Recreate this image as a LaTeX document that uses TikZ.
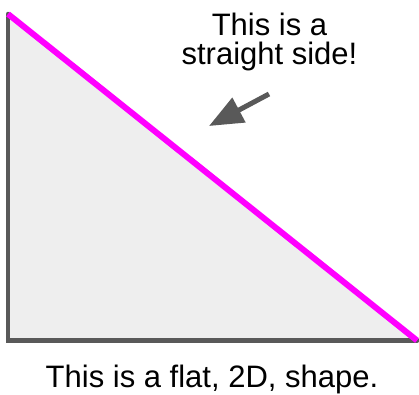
\documentclass[tikz,border=0pt]{standalone}
\usepackage{fontspec}
\setmainfont{Liberation Sans}
\usetikzlibrary{arrows.meta}
\definecolor{edgegray}{HTML}{595959}
\definecolor{facegray}{HTML}{EEEEEE}
\definecolor{hyp}{HTML}{FF00FF}
\tikzset{
  label text/.style={font=\fontsize{31}{29}\selectfont, inner sep=0pt, align=center, text=black},
  pointer/.style={draw=edgegray, line width=5pt, -{Triangle[length=34pt,width=27pt]}},
}
\begin{document}
\begin{tikzpicture}[x=1pt,y=-1pt]
\useasboundingbox (0,0) rectangle (419,394);
\coordinate (A) at (8,14);
\coordinate (B) at (8,340.5);
\coordinate (C) at (417,340.5);
\fill[facegray] (A) -- (B) -- (C) -- cycle;
\draw[edgegray, line width=4.5pt, line cap=round] (A) -- (B) -- (C);
\draw[hyp, line width=6pt] (A) -- (C);
\coordinate (tail) at (269,94);
\coordinate (tip) at (209,126);
\draw[pointer] (tail) -- (tip);
\node[label text, anchor=base] (note) at (269.5,64) {This is a\\straight side!};
\node[label text, anchor=base] (caption) at (212,387) {This is a flat, 2D, shape.};
\end{tikzpicture}
\end{document}
